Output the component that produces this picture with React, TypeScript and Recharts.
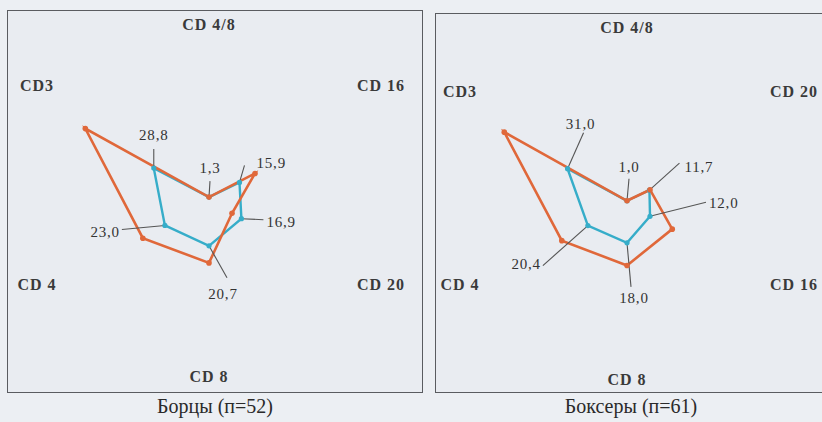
import { PolarAngleAxis, PolarRadiusAxis, Radar, RadarChart } from "recharts";

// axes go clockwise from the top
const wrestlerAxes = ["CD 4/8", "CD 16", "CD 20", "CD 8", "CD 4", "CD3"];
const wrestlerValues = [1.3, 15.9, 16.9, 20.7, 23.0, 28.8];
const wrestlerControl = [1.3, 24.0, 12.0, 28.4, 34.5, 64.5];

const boxerAxes = ["CD 4/8", "CD 20", "CD 16", "CD 8", "CD 4", "CD3"];
const boxerValues = [1.0, 11.7, 12.0, 18.0, 20.4, 31.0];
const boxerControl = [1.0, 12.0, 23.6, 28.2, 34.0, 64.0];

const wrestlerTitle = "Борцы (п=52)";
const boxerTitle = "Боксеры (п=61)";

// leader line end and text offset from each blue point: [lx, ly, tx, ty, anchor]
type Leader = [number, number, number, number, "start" | "middle" | "end"];
const wrestlerLeaders: Leader[] = [
  [1, -16, 1, -29, "middle"],
  [5, -17, 17, -19, "start"],
  [22, 1, 25, 3, "start"],
  [18, 32, 14, 48, "middle"],
  [-43, 4, -45, 7, "end"],
  [0, -19, 0, -33, "middle"],
];
const boxerLeaders: Leader[] = [
  [2, -22, 2, -34, "middle"],
  [30, -27, 35, -23, "start"],
  [56, -14, 59, -13, "start"],
  [4, 44, 7, 55, "middle"],
  [-45, 40, -47, 38, "end"],
  [16, -36, 13, -45, "middle"],
];

const ORANGE = "#e0683a";
const BLUE = "#36adc9";
const FONT = "Liberation Serif, Times New Roman, Tinos, Noto Serif, DejaVu Serif, serif";
const HALF_H = 176;

const fmt = (v: number) => v.toFixed(1).replace(".", ",");

function AxisLabel(props: any) {
  const { x, y, payload, ccx, ccy, halfW } = props;
  const dx = x - ccx;
  const dy = y - ccy;
  const d = Math.hypot(dx, dy) || 1;
  const ux = dx / d;
  const uy = dy / d;
  const side = Math.abs(ux) > 0.01;
  const t = Math.min(
    side ? halfW / Math.abs(ux) : Infinity,
    Math.abs(uy) > 0.01 ? HALF_H / Math.abs(uy) : Infinity,
  );
  return (
    <text
      x={ccx + ux * t}
      y={ccy + uy * t + (side ? -15 : 0)}
      textAnchor="middle"
      dominantBaseline="central"
      style={{ fontFamily: FONT }}
      fontSize={16}
      fontWeight={600}
      letterSpacing={1}
      fill="#3a3a3a"
    >
      {payload.value}
    </text>
  );
}

function LeaderDot(props: any) {
  const { cx, cy, index, values, leaders } = props;
  const [lx, ly, tx, ty, anchor] = leaders[index] as Leader;
  return (
    <g key={`lead-${index}`}>
      <line x1={cx} y1={cy} x2={cx + lx} y2={cy + ly} stroke="#555" strokeWidth={1.1} />
      <circle cx={cx} cy={cy} r={2.6} fill={BLUE} />
      <text
        x={cx + tx}
        y={cy + ty}
        textAnchor={anchor}
        dominantBaseline="central"
        style={{ fontFamily: FONT }}
        fontSize={15}
        letterSpacing={0.8}
        fill="#333"
      >
        {fmt(values[index])}
      </text>
    </g>
  );
}

function OrangeDot(props: any) {
  const { cx, cy, index } = props;
  return <circle key={`od-${index}`} cx={cx} cy={cy} r={2.8} fill={ORANGE} />;
}

type PanelProps = {
  left: number;
  top: number;
  width: number;
  height: number;
  cx: number;
  cy: number;
  halfW: number;
  axes: string[];
  values: number[];
  control: number[];
  leaders: Leader[];
  title: string;
};

function Panel({ left, top, width, height, cx, cy, halfW, axes, values, control, leaders, title }: PanelProps) {
  const data = axes.map((name, i) => ({ name, value: values[i], control: control[i] }));
  return (
    <>
      <div
        style={{
          position: "absolute",
          left,
          top,
          width,
          height,
          boxSizing: "border-box",
          border: "1.5px solid #5a5c60",
          background: "#e9ecf1",
        }}
      />
      <div style={{ position: "absolute", left, top, width, height }}>
        <RadarChart
          width={width}
          height={height}
          data={data}
          cx={cx}
          cy={cy}
          outerRadius={155}
          margin={{ top: 0, right: 0, bottom: 0, left: 0 }}
        >
          <PolarRadiusAxis domain={[0, 70]} tick={false} axisLine={false} />
          <PolarAngleAxis
            dataKey="name"
            axisLine={false}
            tickLine={false}
            tick={(p: any) => <AxisLabel {...p} ccx={cx} ccy={cy} halfW={halfW} />}
          />
          <Radar
            dataKey="value"
            stroke={BLUE}
            strokeWidth={2.4}
            fill="none"
            fillOpacity={0}
            dot={(p: any) => <LeaderDot {...p} values={values} leaders={leaders} />}
            isAnimationActive={false}
          />
          <Radar
            dataKey="control"
            stroke={ORANGE}
            strokeWidth={2.6}
            fill="none"
            fillOpacity={0}
            dot={(p: any) => <OrangeDot {...p} />}
            isAnimationActive={false}
          />
        </RadarChart>
      </div>
      <div
        style={{
          position: "absolute",
          left,
          top: top + height + 1,
          width,
          textAlign: "center",
          fontFamily: FONT,
          fontSize: 20,
          lineHeight: "24px",
          color: "#2a2a2a",
        }}
      >
        {title}
      </div>
    </>
  );
}

export default function App() {
  return (
    <div
      style={{
        position: "absolute",
        left: 0,
        top: 0,
        width: 822,
        height: 422,
        overflow: "hidden",
        background: "#eceff3",
      }}
    >
      <Panel
        left={7}
        top={10}
        width={416}
        height={383}
        cx={202}
        cy={190}
        halfW={172}
        axes={wrestlerAxes}
        values={wrestlerValues}
        control={wrestlerControl}
        leaders={wrestlerLeaders}
        title={wrestlerTitle}
      />
      <Panel
        left={435}
        top={13}
        width={392}
        height={380}
        cx={192}
        cy={190}
        halfW={167}
        axes={boxerAxes}
        values={boxerValues}
        control={boxerControl}
        leaders={boxerLeaders}
        title={boxerTitle}
      />
    </div>
  );
}
